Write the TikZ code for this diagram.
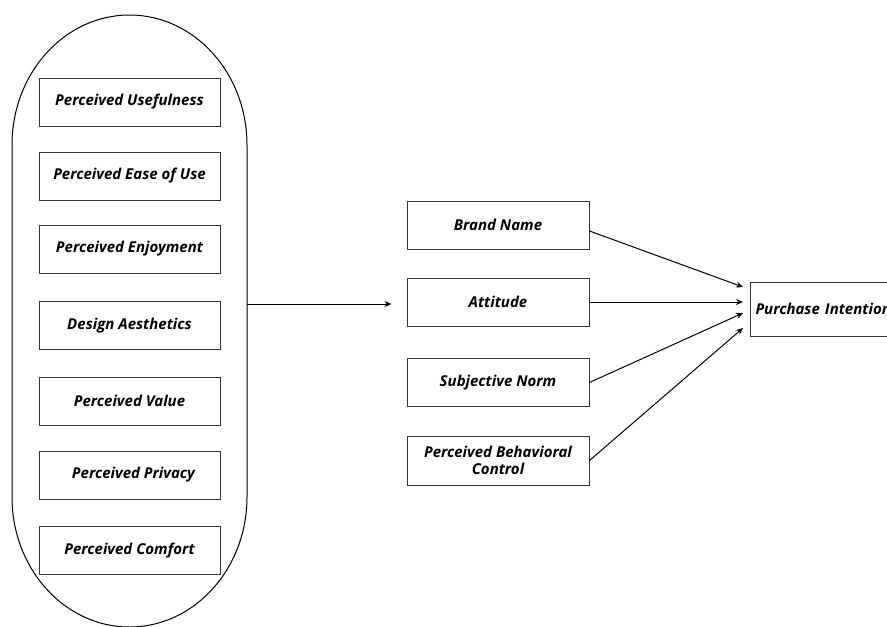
\documentclass[tikz,border=0pt]{standalone}
\usepackage{fontspec}
\setmainfont{Open Sans}
\usetikzlibrary{arrows.meta}
\tikzset{
  fbox/.style={draw=black!80, line width=1pt, minimum width=181pt, minimum height=48pt, inner sep=2pt, align=center, font=\fontsize{15}{17.5}\selectfont\bfseries\itshape},
  conn/.style={line width=1pt, -{Stealth[length=7pt,width=6pt]}},
  shell/.style={draw=black, line width=1pt}
}
\begin{document}
\begin{tikzpicture}[x=1pt,y=-1pt]
\useasboundingbox (0,0) rectangle (887,627);
\clip (0,0) rectangle (887,627);
\draw[shell] (12,145) arc[start angle=180,end angle=360,x radius=117.5,y radius=130] -- (247,497) arc[start angle=0,end angle=180,x radius=117.5,y radius=130] -- cycle;
\coordinate (ovr) at (247,304);
\node[fbox] (pu) at (129.5,102) {Perceived Usefulness};
\node[fbox] (pe) at (129.5,176) {Perceived Ease of Use};
\node[fbox] (pj) at (129.5,249) {Perceived Enjoyment};
\node[fbox] (da) at (129.5,325.5) {Design Aesthetics};
\node[fbox] (pv) at (129.5,401) {Perceived Value};
\node[fbox] (pp) at (129.5,475) {\hspace*{8pt}Perceived Privacy};
\node[fbox] (pc) at (129.5,550.5) {Perceived Comfort};
\node[fbox, minimum width=182pt] (bn) at (498,225) {Brand Name};
\node[fbox, minimum width=182pt] (at) at (498,302) {Attitude};
\node[fbox, minimum width=182pt] (sn) at (498,382.5) {Subjective Norm};
\node[fbox, minimum width=182pt, minimum height=49pt] (pb) at (498,460.5) {Perceived Behavioral\\Control};
\node[fbox, anchor=west, minimum width=170pt, minimum height=54pt, align=left, text width=160pt, inner sep=4pt] (pi) at (750,309) {Purchase Intention};
\coordinate (atin) at ([xshift=-15pt,yshift=-2pt]at.west);
\draw[conn] (ovr) -- (atin);
\draw[conn] ([yshift=-6pt]bn.east) -- ([xshift=-7pt,yshift=22pt]pi.west);
\draw[conn] (at.east) -- ([xshift=-7pt,yshift=7pt]pi.west);
\draw[conn] (sn.east) -- ([xshift=-7pt,yshift=-4pt]pi.west);
\draw[conn] (pb.east) -- ([xshift=-7pt,yshift=-19pt]pi.west);
\end{tikzpicture}
\end{document}
